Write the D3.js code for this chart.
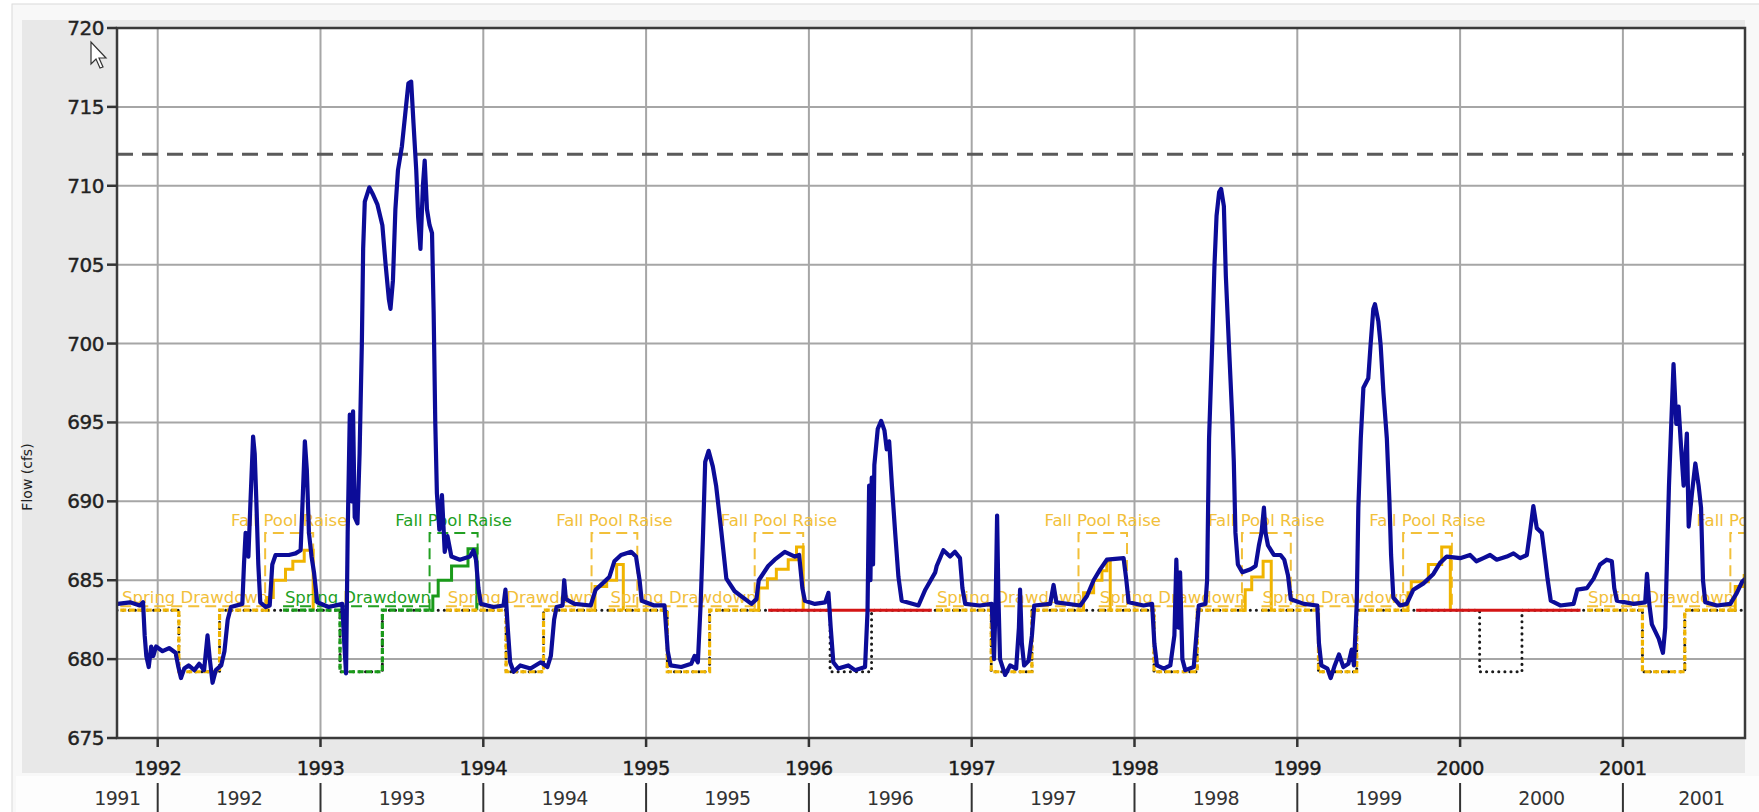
<!DOCTYPE html>
<html>
<head>
<meta charset="utf-8">
<script src="https://cdn.jsdelivr.net/npm/d3@7"></script>
<style>
body { margin: 0; background: #fff; }
text { font-family: "DejaVu Sans", Verdana, sans-serif; }
</style>
</head>
<body>
<div id="chart"></div>
<script>
// pool record: [decimal year, elevation]
let flow = [
  [1991.755,683.5],[1991.83,683.6],[1991.89,683.4],[1991.91,683.6],[1991.92,681.5],[1991.93,680.2],[1991.945,679.5],[1991.96,680.8],
  [1991.973,680.2],[1991.99,680.8],[1992.03,680.5],[1992.07,680.7],[1992.11,680.4],[1992.127,679.5],[1992.143,678.8],[1992.163,679.4],
  [1992.19,679.6],[1992.225,679.3],[1992.255,679.7],[1992.285,679.3],[1992.306,681.5],[1992.32,680.0],[1992.337,678.5],[1992.357,679.3],
  [1992.39,679.6],[1992.41,680.5],[1992.43,682.5],[1992.45,683.3],[1992.52,683.5],[1992.53,686.0],[1992.54,688.0],[1992.557,686.5],
  [1992.57,690],[1992.586,694.1],[1992.596,693],[1992.606,690],[1992.618,686],[1992.63,683.6],[1992.663,683.3],[1992.688,683.4],
  [1992.704,686.0],[1992.724,686.6],[1992.806,686.6],[1992.847,686.7],[1992.878,686.9],[1992.89,690],[1992.904,693.8],[1992.916,692],
  [1992.929,688],[1992.945,686.5],[1992.96,685.5],[1992.98,683.6],[1993.05,683.3],[1993.134,683.5],[1993.146,681],[1993.157,679.1],
  [1993.167,688],[1993.18,695.5],[1993.19,690],[1993.2,695.7],[1993.21,689],[1993.227,688.6],[1993.24,693],[1993.254,700],
  [1993.262,706],[1993.272,709.0],[1993.3,709.9],[1993.32,709.5],[1993.35,708.8],[1993.38,707.5],[1993.4,705.0],[1993.42,702.8],
  [1993.43,702.2],[1993.445,704],[1993.46,708.5],[1993.476,711],[1993.5,712.5],[1993.52,714.5],[1993.54,716.5],[1993.557,716.6],
  [1993.571,714],[1993.588,711],[1993.6,708],[1993.614,706.0],[1993.629,710],[1993.64,711.6],[1993.654,708.5],[1993.67,707.5],
  [1993.685,707],[1993.695,702],[1993.705,695],[1993.715,690.5],[1993.73,688.2],[1993.746,690.4],[1993.763,686.8],[1993.78,687.8],
  [1993.804,686.5],[1993.856,686.3],[1993.918,686.5],[1993.94,686.9],[1993.955,686.3],[1993.97,684.5],[1993.985,683.5],[1994.062,683.3],
  [1994.124,683.4],[1994.136,684.4],[1994.15,682],[1994.165,679.8],[1994.186,679.2],[1994.227,679.6],[1994.29,679.4],[1994.353,679.8],
  [1994.394,679.5],[1994.415,680.2],[1994.435,682.5],[1994.45,683.3],[1994.487,683.4],[1994.497,685.0],[1994.507,683.8],[1994.56,683.5],
  [1994.66,683.4],[1994.69,684.4],[1994.733,684.8],[1994.774,685.2],[1994.805,686.2],[1994.846,686.6],[1994.908,686.8],[1994.938,686.5],
  [1994.96,685],[1994.973,683.7],[1995.05,683.4],[1995.113,683.4],[1995.133,680.5],[1995.15,679.6],[1995.216,679.5],[1995.277,679.7],
  [1995.298,680.2],[1995.318,679.8],[1995.335,683.5],[1995.35,688],[1995.363,692.5],[1995.384,693.2],[1995.41,692.2],[1995.43,691],
  [1995.462,688.1],[1995.493,685.1],[1995.544,684.3],[1995.647,683.5],[1995.678,683.8],[1995.692,685],[1995.75,685.9],[1995.79,686.3],
  [1995.852,686.8],[1995.914,686.5],[1995.94,686.6],[1995.96,684.5],[1995.975,683.7],[1996.037,683.5],[1996.1,683.6],[1996.12,684.2],
  [1996.134,682],[1996.15,679.8],[1996.18,679.4],[1996.242,679.6],[1996.283,679.3],[1996.345,679.5],[1996.36,683],[1996.37,691],
  [1996.378,685],[1996.386,691.5],[1996.394,686],[1996.402,692.3],[1996.423,694.6],[1996.444,695.1],[1996.464,694.5],[1996.478,693.3],
  [1996.493,693.8],[1996.51,691],[1996.53,688],[1996.55,685.2],[1996.57,683.7],[1996.673,683.4],[1996.715,684.4],[1996.776,685.5],
  [1996.785,685.9],[1996.826,686.9],[1996.867,686.5],[1996.897,686.8],[1996.928,686.4],[1996.943,684.5],[1996.96,683.5],[1997.05,683.4],
  [1997.123,683.5],[1997.137,680],[1997.148,684],[1997.156,689.1],[1997.164,684],[1997.174,680],[1997.205,679],[1997.236,679.6],
  [1997.273,679.4],[1997.29,682],[1997.297,684.4],[1997.308,681],[1997.322,679.6],[1997.35,679.9],[1997.37,681.5],[1997.384,683.4],
  [1997.482,683.5],[1997.503,684.7],[1997.52,683.6],[1997.667,683.4],[1997.708,684.0],[1997.749,685.0],[1997.79,685.7],[1997.83,686.3],
  [1997.933,686.4],[1997.95,685],[1997.964,683.6],[1998.056,683.4],[1998.108,683.5],[1998.122,681],[1998.138,679.6],[1998.18,679.4],
  [1998.22,679.6],[1998.245,681.5],[1998.257,686.3],[1998.27,682],[1998.28,685.5],[1998.294,680],[1998.312,679.3],[1998.364,679.5],
  [1998.38,681.5],[1998.395,683.4],[1998.436,683.5],[1998.446,685],[1998.458,694],[1998.477,699.9],[1998.491,704.9],[1998.504,708.1],
  [1998.52,709.6],[1998.532,709.8],[1998.549,708.7],[1998.561,704.3],[1998.58,699.9],[1998.6,695.4],[1998.61,692.5],[1998.62,688],
  [1998.635,686],[1998.662,685.5],[1998.713,685.7],[1998.744,685.9],[1998.764,687.2],[1998.78,688],[1998.795,689.6],[1998.805,688],
  [1998.82,687.2],[1998.856,686.6],[1998.897,686.6],[1998.92,686.3],[1998.943,685.3],[1998.96,683.8],[1999.04,683.5],[1999.123,683.4],
  [1999.133,681],[1999.148,679.6],[1999.185,679.4],[1999.205,678.8],[1999.23,679.6],[1999.256,680.3],[1999.283,679.5],[1999.314,679.7],
  [1999.334,680.6],[1999.348,679.6],[1999.365,683.5],[1999.375,689.6],[1999.39,694],[1999.406,697.2],[1999.436,697.8],[1999.45,699.9],
  [1999.467,702.2],[1999.477,702.5],[1999.498,701.4],[1999.512,699.9],[1999.529,696.9],[1999.55,694],[1999.566,690],[1999.576,686.6],
  [1999.59,683.9],[1999.631,683.4],[1999.672,683.5],[1999.713,684.4],[1999.775,684.8],[1999.836,685.4],[1999.877,686.1],[1999.918,686.5],
  [2000.0,686.4],[2000.061,686.6],[2000.1,686.2],[2000.143,686.4],[2000.184,686.6],[2000.225,686.3],[2000.287,686.5],[2000.328,686.7],
  [2000.369,686.4],[2000.41,686.6],[2000.43,688.1],[2000.45,689.7],[2000.471,688.3],[2000.502,688.0],[2000.523,686.3],[2000.537,685.1],
  [2000.557,683.7],[2000.615,683.4],[2000.697,683.5],[2000.72,684.4],[2000.779,684.5],[2000.82,685.1],[2000.86,686.0],[2000.9,686.3],
  [2000.932,686.2],[2000.947,684.5],[2000.963,683.7],[2001.066,683.5],[2001.137,683.6],[2001.148,685.4],[2001.162,683.5],[2001.178,682.2],
  [2001.22,681.3],[2001.246,680.4],[2001.26,682],[2001.27,686],[2001.283,691],[2001.297,694.9],[2001.311,698.7],[2001.328,694.9],
  [2001.342,696],[2001.357,693.5],[2001.373,691],[2001.393,694.3],[2001.404,688.4],[2001.424,690.5],[2001.445,692.4],[2001.465,691],
  [2001.48,689.6],[2001.492,685],[2001.506,683.6],[2001.578,683.4],[2001.66,683.5],[2001.7,684.2],[2001.732,684.9],[2001.752,685.1]
];

let yTicks = [675, 680, 685, 690, 695, 700, 705, 710, 715, 720];
let topYears = [1992, 1993, 1994, 1995, 1996, 1997, 1998, 1999, 2000, 2001];
let bottomYears = [1991, 1992, 1993, 1994, 1995, 1996, 1997, 1998, 1999, 2000, 2001];

let guideLevel = 712;
let baseLevel = 683.1, lowLevel = 679.2, raiseTop = 688, springTop = 683.35;

// spring drawdown dates of each year
let drawYears = [1992, 1993, 1994, 1995, 1996, 1997, 1998, 1999, 2000, 2001];
let drawDrop = [1992.13, 1993.12, 1994.14, 1995.13, 1996.13, 1997.12, 1998.12, 1999.13, 2000.12, 2001.12];
let drawRise = [1992.38, 1993.38, 1994.37, 1995.39, 1996.385, 1997.37, 1998.385, 1999.365, 2000.38, 2001.38];

// operated seasons
let seasonYears = [1992, 1993, 1994, 1995, 1997, 1998, 1999, 2001];
let seasonKind = ["y", "g", "y", "y", "y", "y", "y", "y"];
let springStart = [1991.77, 1992.77, 1993.77, 1994.77, 1996.78, 1997.78, 1998.78, 2000.78];
let springEnd = [1992.69, 1993.69, 1994.69, 1995.69, 1997.69, 1998.69, 1999.69, 2001.69];
let fallStart = [1992.66, 1993.67, 1994.665, 1995.667, 1997.656, 1998.66, 1999.65, 2001.66];
let fallEnd = [1992.955, 1993.965, 1994.946, 1995.965, 1997.954, 1998.96, 1999.95, 2001.96];
let fallSteps = [
  [[1992.66,683.1],[1992.67,683.9],[1992.71,685.0],[1992.785,685.7],[1992.83,686.2],[1992.9,686.9],[1992.955,683.1]],
  [[1993.67,683.1],[1993.69,684.0],[1993.723,685.0],[1993.805,685.9],[1993.906,687.0],[1993.96,683.1]],
  [[1994.665,683.1],[1994.686,684.6],[1994.758,685.0],[1994.819,686.0],[1994.86,683.1]],
  [[1995.667,683.1],[1995.692,684.5],[1995.745,685.1],[1995.8,685.7],[1995.873,686.3],[1995.924,687.1],[1995.965,683.1]],
  [[1997.656,683.1],[1997.687,684.2],[1997.749,685.0],[1997.8,685.6],[1997.83,686.2],[1997.851,683.1]],
  [[1998.66,683.1],[1998.68,684.4],[1998.72,685.2],[1998.79,686.2],[1998.84,683.1]],
  [[1999.65,683.1],[1999.68,684.2],[1999.7,684.9],[1999.805,686.0],[1999.887,687.1],[1999.94,683.1]],
  [[2001.66,683.1],[2001.69,684.6],[2001.745,685.3],[2001.8,686.0]]
];

// water years without operation
let redSpans = [[1995.75, 1996.755], [1999.73, 2000.74]];

let colors = { y: "#f0b400", g: "#1a9a1a" };
let labelColors = { y: "#f2c03a", g: "#22a022" };

let width = 1759, height = 812;
let pL = 117, pR = 1745, pT = 28, pB = 738;

let x = d3.scaleLinear().domain([1991.75, 2001.75]).range([pL, pR]);
let y = d3.scaleLinear().domain([675, 720]).range([pB, pT]);

let svg = d3.select("#chart").append("svg")
  .attr("width", width)
  .attr("height", height);

// frame
svg.append("rect").attr("x", 12).attr("y", 4).attr("width", 1760).attr("height", 820)
  .attr("fill", "#f8f8f8").attr("stroke", "#dadada");
svg.append("rect").attr("x", 22).attr("y", 20).attr("width", pR - 22).attr("height", 753)
  .attr("fill", "#e8e8e8");
svg.append("rect").attr("x", 16).attr("y", 776).attr("width", 1750).attr("height", 40)
  .attr("fill", "#fdfdfd");
svg.append("rect").attr("x", pL).attr("y", pT).attr("width", pR - pL).attr("height", pB - pT)
  .attr("fill", "#fff");

svg.append("clipPath").attr("id", "plot")
  .append("rect").attr("x", pL).attr("y", pT).attr("width", pR - pL).attr("height", pB - pT);

let plot = svg.append("g").attr("clip-path", "url(#plot)");

// grid
plot.selectAll(".vg").data(topYears).enter().append("line")
  .attr("x1", d => x(d)).attr("x2", d => x(d)).attr("y1", pT).attr("y2", pB)
  .attr("stroke", "#a6a6a6").attr("stroke-width", 2);
plot.selectAll(".hg").data(yTicks.slice(1, -1)).enter().append("line")
  .attr("x1", pL).attr("x2", pR).attr("y1", d => y(d)).attr("y2", d => y(d))
  .attr("stroke", "#a6a6a6").attr("stroke-width", 2);

plot.append("line")
  .attr("x1", pL).attr("x2", pR).attr("y1", y(guideLevel)).attr("y2", y(guideLevel))
  .attr("stroke", "#5a5a5a").attr("stroke-width", 3).attr("stroke-dasharray", "16,9");

let line = d3.line().x(d => x(d[0])).y(d => y(d[1]));

// planned schedule, black dots
let schedule = [[1991.75, baseLevel]];
drawYears.forEach((yr, i) => {
  schedule.push([drawDrop[i], baseLevel], [drawDrop[i], lowLevel], [drawRise[i], lowLevel], [drawRise[i], baseLevel]);
});
schedule.push([2001.75, baseLevel]);
plot.append("path").attr("d", line(schedule))
  .attr("fill", "none").attr("stroke", "#1a1a1a").attr("stroke-width", 3)
  .attr("stroke-linecap", "round").attr("stroke-dasharray", "0.1,6");

// seasons
seasonYears.forEach((yr, i) => {
  let c = colors[seasonKind[i]], lc = labelColors[seasonKind[i]];
  let k = drawYears.indexOf(yr);
  let pts = [[springStart[i], baseLevel], [drawDrop[k], baseLevel], [drawDrop[k], lowLevel],
             [drawRise[k], lowLevel], [drawRise[k], baseLevel], [springEnd[i], baseLevel]];
  plot.append("path").attr("d", line(pts))
    .attr("fill", "none").attr("stroke", c).attr("stroke-width", 3.2).attr("stroke-dasharray", "6,2.5");

  // spring drawdown span
  plot.append("line")
    .attr("x1", x(springStart[i])).attr("x2", x(springEnd[i]))
    .attr("y1", y(springTop)).attr("y2", y(springTop))
    .attr("stroke", lc).attr("stroke-width", 2).attr("stroke-dasharray", "11,6");
  plot.append("text")
    .attr("x", x((springStart[i] + springEnd[i]) / 2)).attr("y", y(springTop) - 3)
    .attr("text-anchor", "middle").attr("font-size", 16.5).attr("fill", lc)
    .text("Spring Drawdown");

  // fall pool raise box
  let box = [[fallStart[i], baseLevel], [fallStart[i], raiseTop], [fallEnd[i], raiseTop], [fallEnd[i], baseLevel]];
  plot.append("path").attr("d", line(box))
    .attr("fill", "none").attr("stroke", lc).attr("stroke-width", 2).attr("stroke-dasharray", "11,6");
  plot.append("path").attr("d", d3.line().curve(d3.curveStepAfter).x(d => x(d[0])).y(d => y(d[1]))(fallSteps[i]))
    .attr("fill", "none").attr("stroke", c).attr("stroke-width", 3);
  plot.append("text")
    .attr("x", x((fallStart[i] + fallEnd[i]) / 2)).attr("y", y(raiseTop) - 7)
    .attr("text-anchor", "middle").attr("font-size", 16.5).attr("fill", lc)
    .text("Fall Pool Raise");
});

plot.selectAll(".red").data(redSpans).enter().append("line")
  .attr("x1", d => x(d[0])).attr("x2", d => x(d[1]))
  .attr("y1", y(baseLevel)).attr("y2", y(baseLevel))
  .attr("stroke", "#d41414").attr("stroke-width", 3);

// observed
plot.append("path").attr("d", line(flow))
  .attr("fill", "none").attr("stroke", "#0c0c98").attr("stroke-width", 4.2)
  .attr("stroke-linejoin", "round").attr("stroke-linecap", "round");

// border
svg.append("rect").attr("x", pL).attr("y", pT).attr("width", pR - pL).attr("height", pB - pT)
  .attr("fill", "none").attr("stroke", "#3a3a3a").attr("stroke-width", 2.5);

// y axis
svg.selectAll(".yt").data(yTicks).enter().append("line")
  .attr("x1", pL - 10).attr("x2", pL).attr("y1", d => y(d)).attr("y2", d => y(d))
  .attr("stroke", "#333").attr("stroke-width", 2.5);
svg.selectAll(".yl").data(yTicks).enter().append("text")
  .attr("x", pL - 13).attr("y", d => y(d) + 7)
  .attr("text-anchor", "end").attr("font-size", 20).attr("fill", "#222")
  .attr("stroke", "#222").attr("stroke-width", 0.4).attr("letter-spacing", -0.5)
  .text(d => d);

svg.append("text")
  .attr("transform", "translate(32,477) rotate(-90)")
  .attr("text-anchor", "middle").attr("font-size", 14).attr("fill", "#222")
  .text("Flow (cfs)");

// x axis
svg.selectAll(".xt").data(topYears).enter().append("line")
  .attr("x1", d => x(d)).attr("x2", d => x(d)).attr("y1", pB).attr("y2", pB + 9)
  .attr("stroke", "#333").attr("stroke-width", 2.5);
svg.selectAll(".xl").data(topYears).enter().append("text")
  .attr("x", d => x(d)).attr("y", 775)
  .attr("text-anchor", "middle").attr("font-size", 19.5).attr("fill", "#1a1a1a")
  .attr("stroke", "#1a1a1a").attr("stroke-width", 0.4).attr("letter-spacing", -0.5)
  .text(d => d);

svg.selectAll(".sep").data(topYears).enter().append("line")
  .attr("x1", d => x(d)).attr("x2", d => x(d)).attr("y1", 783).attr("y2", 812)
  .attr("stroke", "#333").attr("stroke-width", 2);
svg.selectAll(".bl").data(bottomYears).enter().append("text")
  .attr("x", d => (Math.max(x(d), pL - 40) + Math.min(x(d + 1), pR + 35)) / 2)
  .attr("y", 805)
  .attr("text-anchor", "middle").attr("font-size", 19).attr("fill", "#333")
  .attr("letter-spacing", -0.5)
  .text(d => d);

// mouse pointer in the screenshot
svg.append("path")
  .attr("d", "M91,42 L91,64 L96,59 L100,68 L103,67 L99,58 L106,58 Z")
  .attr("fill", "#fff").attr("stroke", "#333").attr("stroke-width", 1.2);
</script>
</body>
</html>
